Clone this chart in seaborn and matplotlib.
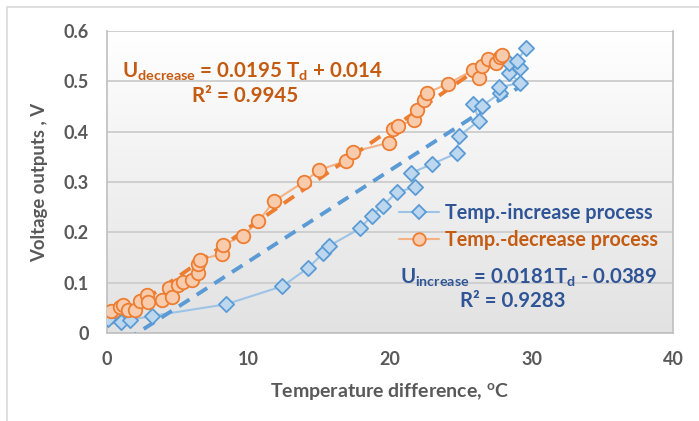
import numpy as np
import pandas as pd
import matplotlib
matplotlib.use("Agg")
import matplotlib.pyplot as plt
from matplotlib.lines import Line2D
from matplotlib.colors import LinearSegmentedColormap
import seaborn as sns

# ---------------- data ----------------
inc_T = [0.1, 1.0, 1.6, 3.2, 8.4, 12.4, 14.2, 15.3, 15.7, 17.9, 18.7, 19.5, 20.5,
         21.8, 21.5, 23.0, 24.7, 24.9, 26.3, 25.9, 26.5, 27.8, 27.7, 29.2, 28.4,
         28.4, 29.2, 29.0, 29.6]
inc_U = [0.028, 0.022, 0.026, 0.034, 0.057, 0.093, 0.129, 0.159, 0.173, 0.208, 0.233,
         0.253, 0.280, 0.290, 0.318, 0.336, 0.357, 0.392, 0.422, 0.455, 0.451, 0.477,
         0.488, 0.497, 0.517, 0.537, 0.527, 0.541, 0.566]

dec_T = [0.3, 0.9, 1.1, 1.5, 2.0, 2.3, 2.8, 2.9, 3.9, 4.4, 4.6, 5.0, 5.4, 6.0, 6.4,
         6.4, 6.6, 8.1, 8.2, 9.6, 10.7, 11.8, 13.9, 15.0, 16.9, 17.4, 19.9, 20.2,
         20.6, 21.7, 21.9, 22.4, 22.6, 24.1, 25.9, 26.3, 26.5, 26.9, 27.5, 27.8, 27.9]
dec_U = [0.044, 0.052, 0.056, 0.046, 0.046, 0.064, 0.076, 0.062, 0.066, 0.090, 0.072,
         0.095, 0.101, 0.106, 0.120, 0.138, 0.146, 0.157, 0.175, 0.193, 0.222, 0.262,
         0.300, 0.324, 0.342, 0.360, 0.378, 0.405, 0.412, 0.423, 0.443, 0.463, 0.477,
         0.495, 0.523, 0.507, 0.530, 0.545, 0.537, 0.549, 0.553]

inc_fit = (0.0181, -0.0389)
dec_fit = (0.0195, 0.014)

series_names = ["Temp.-increase process", "Temp.-decrease process"]
x_ticks = [0, 10, 20, 30, 40]
y_ticks = [0, 0.1, 0.2, 0.3, 0.4, 0.5, 0.6]

# ---------------- style ----------------
sns.set_theme(style="white")
plt.rcParams["font.family"] = ["Lato", "DejaVu Sans"]
plt.rcParams["mathtext.fontset"] = "custom"
plt.rcParams["mathtext.rm"] = "Lato:bold"
plt.rcParams["mathtext.it"] = "Lato:bold"
plt.rcParams["mathtext.bf"] = "Lato:bold"

W, H = 699, 421
fig = plt.figure(figsize=(W / 100, H / 100), dpi=100)

left, right, top, bottom = 107, 673, 31, 333
pos = [left / W, 1 - bottom / H, (right - left) / W, (bottom - top) / H]

# gradient background
bg = fig.add_axes(pos, zorder=0)
grad = np.linspace(0, 1, 256).reshape(-1, 1)
cmap = LinearSegmentedColormap.from_list("g", ["#FFFFFF", "#E2E2E2"])
bg.imshow(grad, aspect="auto", cmap=cmap, extent=[0, 1, 0, 1], origin="upper")
bg.set_axis_off()

ax = fig.add_axes(pos, zorder=1)
ax.set_facecolor("none")

# border of the chart area
fig.add_artist(Line2D([7 / W, 7 / W], [0, 1 - 7 / H], color="#D9D9D9", lw=1.2))
fig.add_artist(Line2D([7 / W, 1], [1 - 7 / H, 1 - 7 / H], color="#D9D9D9", lw=1.2))

blue_edge, blue_face, blue_line, blue_text = "#5B9BD5", "#BDD7EE", "#9DC3E6", "#2F5597"
or_edge, or_face, or_line, or_text = "#ED7D31", "#F8CBAD", "#F4B183", "#C55A11"

inc = pd.DataFrame({"T": inc_T, "U": inc_U})
dec = pd.DataFrame({"T": dec_T, "U": dec_U})

# connecting lines
sns.lineplot(data=inc, x="T", y="U", sort=False, estimator=None, color=blue_line,
             lw=1.5, ax=ax, zorder=2)
sns.lineplot(data=dec, x="T", y="U", sort=False, estimator=None, color=or_line,
             lw=1.5, ax=ax, zorder=2)

# trendlines
for df, (m, b), col in [(inc, inc_fit, blue_edge), (dec, dec_fit, or_edge)]:
    tx = np.array([min(df["T"]), max(df["T"])])
    tr = pd.DataFrame({"T": tx, "U": m * tx + b})
    sns.lineplot(data=tr, x="T", y="U", color=col, lw=2.8, ax=ax, zorder=3,
                 dashes=False, linestyle=(0, (3.2, 2.2)))

# markers
sns.scatterplot(data=inc, x="T", y="U", marker="D", s=60, color=blue_face,
                edgecolor=blue_edge, linewidth=1.3, ax=ax, zorder=4)
sns.scatterplot(data=dec, x="T", y="U", marker="o", s=95, color=or_face,
                edgecolor=or_edge, linewidth=1.3, ax=ax, zorder=5)

ax.set_xlim(0, 40)
ax.set_ylim(0, 0.6)
ax.set_xticks(x_ticks)
ax.set_yticks(y_ticks)
ax.set_xticklabels([str(v) for v in x_ticks])
ax.set_yticklabels(["0" if v == 0 else f"{v:.1f}" for v in y_ticks])
ax.grid(axis="y", color="#CFCFCF", lw=1.4)
ax.grid(axis="x", visible=False)
for s in ["left", "bottom", "right"]:
    ax.spines[s].set_visible(True)
    ax.spines[s].set_color("#BFBFBF")
    ax.spines[s].set_linewidth(1.2)
ax.spines["top"].set_visible(False)
ax.tick_params(axis="both", which="both", direction="out", length=5, width=1.1,
               color="#BFBFBF", labelsize=13, labelcolor="#595959", pad=8)
for lab in ax.get_xticklabels() + ax.get_yticklabels():
    lab.set_fontweight("bold")

ax.set_xlabel("Temperature difference, $^{\\mathrm{o}}$C", fontsize=14,
              fontweight="bold", color="#595959", labelpad=9)
ax.set_ylabel("Voltage outputs , V", fontsize=13.3, fontweight="bold",
              color="#595959", labelpad=11)

# equations
ax.text(0.027, 0.865, "U$_{\\mathrm{decrease}}$ = 0.0195 T$_{\\mathrm{d}}$ + 0.014",
        transform=ax.transAxes, fontsize=14.8, fontweight="bold", color=or_text,
        ha="left", va="center")
ax.text(0.244, 0.785, "R² = 0.9945", transform=ax.transAxes, fontsize=14.8,
        fontweight="bold", color=or_text, ha="center", va="center")
ax.text(0.518, 0.183, "U$_{\\mathrm{increase}}$ = 0.0181T$_{\\mathrm{d}}$ - 0.0389",
        transform=ax.transAxes, fontsize=14.7, fontweight="bold", color=blue_text,
        ha="left", va="center")
ax.text(0.716, 0.105, "R² = 0.9283", transform=ax.transAxes, fontsize=14.7,
        fontweight="bold", color=blue_text, ha="center", va="center")

handles = [
    Line2D([], [], color=blue_line, lw=1.5, marker="D", markersize=7,
           markerfacecolor=blue_face, markeredgecolor=blue_edge, markeredgewidth=1.3),
    Line2D([], [], color=or_line, lw=1.5, marker="o", markersize=9,
           markerfacecolor=or_face, markeredgecolor=or_edge, markeredgewidth=1.3),
]
leg = ax.legend(handles, series_names, loc="center left", bbox_to_anchor=(0.485, 0.352),
                frameon=False, prop={"family": "Lato", "weight": "bold", "size": 14.2},
                handlelength=2.0, handletextpad=0.3, labelspacing=0.35)
for t, c in zip(leg.get_texts(), [blue_text, or_text]):
    t.set_color(c)

fig.savefig("out.png", dpi=100)
